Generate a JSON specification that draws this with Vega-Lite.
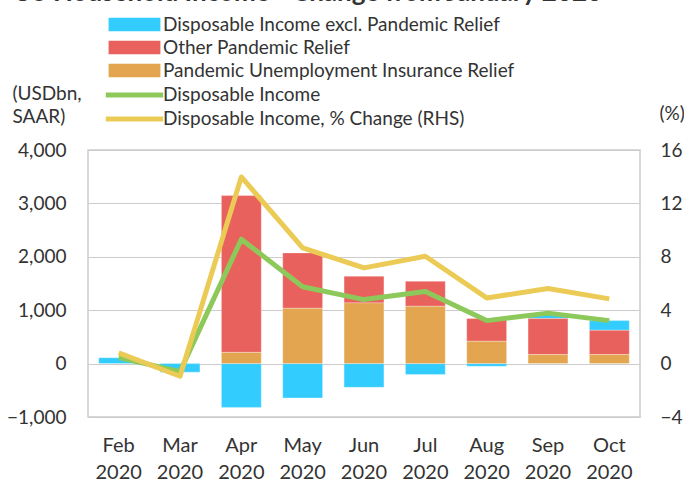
{
  "$schema": "https://vega.github.io/schema/vega-lite/v6.json",
  "width": 552,
  "height": 267,
  "autosize": {"type": "none"},
  "padding": {"left": 88, "top": 150, "right": 44, "bottom": 65},
  "background": "white",
  "title": {
    "text": "US Household Income - Change from January 2020",
    "font": "Lato",
    "fontSize": 26,
    "fontWeight": "bold",
    "color": "#333333",
    "anchor": "start",
    "frame": "group",
    "baseline": "alphabetic",
    "offset": 9,
    "dx": -75,
    "dy": 21
  },
  "config": {
    "font": "Lato",
    "view": {"stroke": "#cccccc", "strokeWidth": 1.5},
    "axis": {
      "labelFont": "Lato",
      "titleFont": "Lato",
      "labelColor": "#333333",
      "titleColor": "#333333",
      "labelFontSize": 19,
      "titleFontSize": 19,
      "titleFontWeight": "normal",
      "ticks": false,
      "domain": false
    },
    "legend": {
      "labelFont": "Lato",
      "labelFontSize": 19,
      "labelColor": "#333333",
      "labelLimit": 600,
      "labelOffset": 19,
      "symbolSize": 196,
      "rowPadding": 3,
      "direction": "vertical",
      "orient": "none"
    }
  },
  "datasets": {
    "bars": [
      {"month": "Feb 2020", "series": "Disposable Income excl. Pandemic Relief", "value": 110},
      {"month": "Mar 2020", "series": "Disposable Income excl. Pandemic Relief", "value": -160},
      {"month": "Apr 2020", "series": "Disposable Income excl. Pandemic Relief", "value": -820},
      {"month": "Apr 2020", "series": "Other Pandemic Relief", "value": 2936},
      {"month": "Apr 2020", "series": "Pandemic Unemployment Insurance Relief", "value": 210},
      {"month": "May 2020", "series": "Disposable Income excl. Pandemic Relief", "value": -643},
      {"month": "May 2020", "series": "Other Pandemic Relief", "value": 1037},
      {"month": "May 2020", "series": "Pandemic Unemployment Insurance Relief", "value": 1036},
      {"month": "Jun 2020", "series": "Disposable Income excl. Pandemic Relief", "value": -444},
      {"month": "Jun 2020", "series": "Other Pandemic Relief", "value": 498},
      {"month": "Jun 2020", "series": "Pandemic Unemployment Insurance Relief", "value": 1137},
      {"month": "Jul 2020", "series": "Disposable Income excl. Pandemic Relief", "value": -206},
      {"month": "Jul 2020", "series": "Other Pandemic Relief", "value": 468},
      {"month": "Jul 2020", "series": "Pandemic Unemployment Insurance Relief", "value": 1073},
      {"month": "Aug 2020", "series": "Disposable Income excl. Pandemic Relief", "value": -50},
      {"month": "Aug 2020", "series": "Other Pandemic Relief", "value": 425},
      {"month": "Aug 2020", "series": "Pandemic Unemployment Insurance Relief", "value": 418},
      {"month": "Sep 2020", "series": "Disposable Income excl. Pandemic Relief", "value": 90},
      {"month": "Sep 2020", "series": "Other Pandemic Relief", "value": 674},
      {"month": "Sep 2020", "series": "Pandemic Unemployment Insurance Relief", "value": 169},
      {"month": "Oct 2020", "series": "Disposable Income excl. Pandemic Relief", "value": 181},
      {"month": "Oct 2020", "series": "Other Pandemic Relief", "value": 455},
      {"month": "Oct 2020", "series": "Pandemic Unemployment Insurance Relief", "value": 169}
    ],
    "income": [
      {"month": "Feb 2020", "series": "Disposable Income", "value": 115},
      {"month": "Mar 2020", "series": "Disposable Income", "value": -150},
      {"month": "Apr 2020", "series": "Disposable Income", "value": 2330},
      {"month": "May 2020", "series": "Disposable Income", "value": 1440},
      {"month": "Jun 2020", "series": "Disposable Income", "value": 1199},
      {"month": "Jul 2020", "series": "Disposable Income", "value": 1350},
      {"month": "Aug 2020", "series": "Disposable Income", "value": 805},
      {"month": "Sep 2020", "series": "Disposable Income", "value": 945},
      {"month": "Oct 2020", "series": "Disposable Income", "value": 805}
    ],
    "pct": [
      {"month": "Feb 2020", "series": "Disposable Income, % Change (RHS)", "value": 0.8},
      {"month": "Mar 2020", "series": "Disposable Income, % Change (RHS)", "value": -0.95},
      {"month": "Apr 2020", "series": "Disposable Income, % Change (RHS)", "value": 13.98},
      {"month": "May 2020", "series": "Disposable Income, % Change (RHS)", "value": 8.67},
      {"month": "Jun 2020", "series": "Disposable Income, % Change (RHS)", "value": 7.17},
      {"month": "Jul 2020", "series": "Disposable Income, % Change (RHS)", "value": 8.04},
      {"month": "Aug 2020", "series": "Disposable Income, % Change (RHS)", "value": 4.92},
      {"month": "Sep 2020", "series": "Disposable Income, % Change (RHS)", "value": 5.62},
      {"month": "Oct 2020", "series": "Disposable Income, % Change (RHS)", "value": 4.85}
    ]
  },
  "encoding": {
    "x": {
      "field": "month",
      "type": "ordinal",
      "sort": ["Feb 2020", "Mar 2020", "Apr 2020", "May 2020", "Jun 2020", "Jul 2020", "Aug 2020", "Sep 2020", "Oct 2020"],
      "scale": {"paddingInner": 0.35, "paddingOuter": 0.175},
      "axis": {
        "title": null,
        "labelAngle": 0,
        "labelExpr": "split(datum.label, ' ')",
        "labelLineHeight": 27,
        "labelFontSize": 20,
        "labelPadding": 18,
        "grid": false
      }
    }
  },
  "layer": [
    {
      "data": {"name": "bars"},
      "mark": {"type": "bar", "stroke": "white", "strokeWidth": 0.5, "strokeOpacity": 0.6},
      "encoding": {
        "y": {
          "field": "value",
          "type": "quantitative",
          "stack": "zero",
          "scale": {"domain": [-1000, 4000], "nice": false},
          "axis": {
            "title": ["(USDbn,", "SAAR)"],
            "titleAngle": 0,
            "titleAlign": "left",
            "titleBaseline": "alphabetic",
            "titleX": -76,
            "titleY": -51,
            "titleLineHeight": 23,
            "values": [-1000, 0, 1000, 2000, 3000, 4000],
            "format": ",.0f",
            "labelPadding": 22,
            "grid": true,
            "gridColor": "#cccccc",
            "gridWidth": 1.2
          }
        },
        "order": {"field": "series", "sort": "descending"},
        "color": {
          "field": "series",
          "type": "nominal",
          "scale": {
            "domain": ["Disposable Income excl. Pandemic Relief", "Other Pandemic Relief", "Pandemic Unemployment Insurance Relief"],
            "range": ["#33CCFF", "#E9615C", "#E3A54F"]
          },
          "legend": {
            "orient": "none",
            "legendX": 37,
            "legendY": -135,
            "title": null,
            "symbolType": "M-3.7,-0.95H3.7V0.95H-3.7Z",
            "symbolStrokeWidth": 0
          }
        }
      }
    },
    {
      "data": {"name": "income"},
      "mark": {"type": "line", "strokeWidth": 5, "strokeJoin": "round", "strokeCap": "butt"},
      "encoding": {
        "y": {
          "field": "value",
          "type": "quantitative",
          "scale": {"domain": [-1000, 4000], "nice": false},
          "axis": null
        },
        "stroke": {
          "field": "series",
          "type": "nominal",
          "scale": {
            "domain": ["Disposable Income", "Disposable Income, % Change (RHS)"],
            "range": ["#8DC95A", "#EBCB55"]
          },
          "legend": {
            "orient": "none",
            "legendX": 37,
            "legendY": -64.5,
            "title": null,
            "symbolType": "M-4.1,0H4.1",
            "symbolStrokeWidth": 5,
            "symbolFillColor": "transparent"
          }
        }
      }
    },
    {
      "data": {"name": "pct"},
      "mark": {"type": "line", "strokeWidth": 5, "strokeJoin": "round", "strokeCap": "butt"},
      "encoding": {
        "y": {
          "field": "value",
          "type": "quantitative",
          "scale": {"domain": [-4, 16], "nice": false},
          "axis": {
            "orient": "right",
            "title": "(%)",
            "titleAngle": 0,
            "titleAlign": "left",
            "titleBaseline": "alphabetic",
            "titleX": 19,
            "titleY": -31,
            "values": [-4, 0, 4, 8, 12, 16],
            "labelPadding": 20,
            "grid": false
          }
        },
        "stroke": {"field": "series", "type": "nominal"}
      }
    }
  ],
  "resolve": {"scale": {"y": "independent"}}
}
